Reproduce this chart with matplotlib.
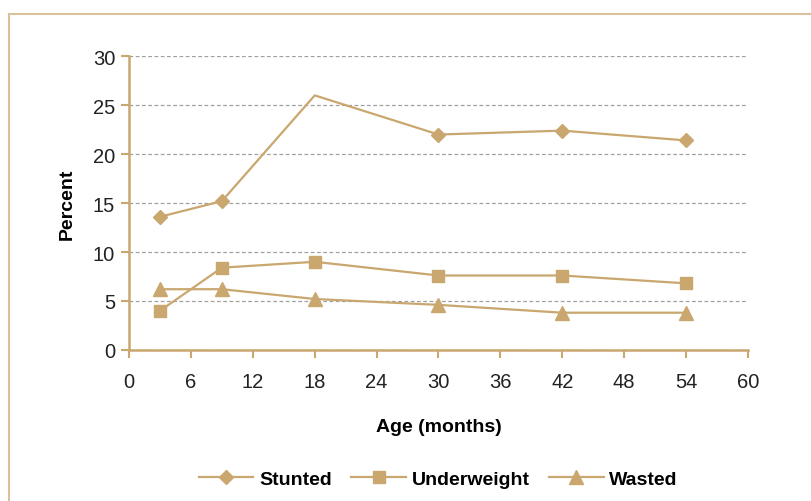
import matplotlib.pyplot as plt
from matplotlib.lines import Line2D

# data
age = [3, 9, 18, 30, 42, 54]
stunted = [13.6, 15.2, 26.0, 22.0, 22.4, 21.4]
underweight = [4.0, 8.4, 9.0, 7.6, 7.6, 6.8]
wasted = [6.2, 6.2, 5.2, 4.6, 3.8, 3.8]

x_ticks = [0, 6, 12, 18, 24, 30, 36, 42, 48, 54, 60]
y_ticks = [0, 5, 10, 15, 20, 25, 30]

tan = '#C9A76E'
plt.rcParams['font.family'] = ['Liberation Sans', 'DejaVu Sans']

fig = plt.figure(figsize=(8.12, 5.02), dpi=100)
ax = fig.add_axes([0.159, 0.301, 0.762, 0.585])

# frame around the figure (top and left edges only visible)
fig.add_artist(Line2D([0.011, 1.0], [0.970, 0.970], color='#D9C29A', lw=1.5))
fig.add_artist(Line2D([0.011, 0.011], [0.0, 0.970], color='#D9C29A', lw=1.5))

ax.plot(age, stunted, color=tan, lw=1.6, marker='D', ms=7.5,
        markevery=[0, 1, 3, 4, 5], label='Stunted')
ax.plot(age, underweight, color=tan, lw=1.6, marker='s', ms=9, label='Underweight')
ax.plot(age, wasted, color=tan, lw=1.6, marker='^', ms=10, label='Wasted')

ax.set_xlim(0, 60)
ax.set_ylim(0, 30)
ax.set_xticks(x_ticks)
ax.set_yticks(y_ticks)
ax.tick_params(axis='both', colors=tan, labelcolor='#222222', labelsize=14.5,
               length=6, width=1.5)
ax.tick_params(axis='x', pad=10)
ax.tick_params(axis='y', pad=4)

ax.grid(axis='y', color='#A0A0A0', ls=(0, (3, 2)), lw=0.9)
ax.set_axisbelow(True)
for s in ['top', 'right']:
    ax.spines[s].set_visible(False)
for s in ['left', 'bottom']:
    ax.spines[s].set_color(tan)
    ax.spines[s].set_linewidth(1.8)

ax.set_xlabel('Age (months)', fontsize=14, fontweight='bold', labelpad=19)
ax.set_ylabel('Percent', fontsize=14, fontweight='bold', labelpad=12)

ax.legend(loc='upper center', bbox_to_anchor=(0.5, -0.35), ncol=3, frameon=False,
          prop={'weight': 'bold', 'size': 14}, handlelength=2.8,
          columnspacing=1.0, handletextpad=0.3)

fig.savefig('out.png', dpi=100)
